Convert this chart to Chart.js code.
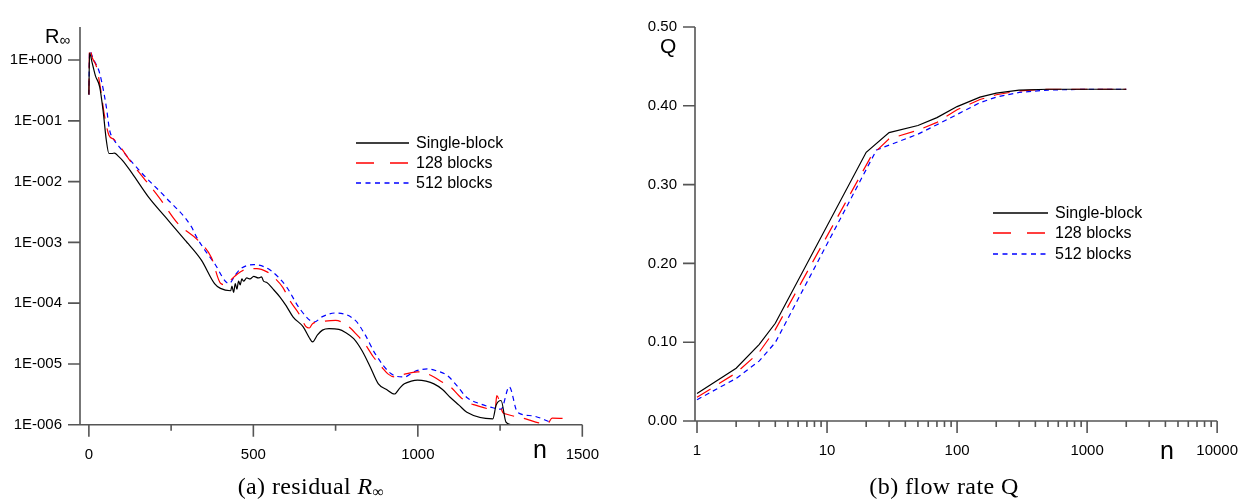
<!DOCTYPE html>
<html><head><meta charset="utf-8">
<script src="https://cdn.jsdelivr.net/npm/chart.js@4.4.1/dist/chart.umd.min.js"></script>
<style>
html,body{margin:0;padding:0;background:#fff;}
body{width:1259px;height:500px;overflow:hidden;position:relative;font-family:"Liberation Sans",Arial,sans-serif;color:#000;}
canvas{position:absolute;top:0;}
.t{position:absolute;white-space:nowrap;line-height:1;}
.cap{font-family:"Liberation Serif","Times New Roman",serif;font-size:24px;letter-spacing:0.4px;transform:translateX(-50%);}
.leg{position:absolute;font-size:16px;line-height:1;}
.leg .row{display:flex;align-items:center;height:20.3px;}
.leg svg{margin-right:7px;}
</style></head>
<body>
<canvas id="cA" width="620" height="500" style="left:0px"></canvas>
<canvas id="cB" width="639" height="500" style="left:620px"></canvas>

<div class="t" style="left:45px;top:26px;font-size:20px;">R<span style="font-size:15px;position:relative;top:2px;">∞</span></div>
<div class="t" style="left:533px;top:437px;font-size:25px;">n</div>
<div class="t" style="left:660px;top:35px;font-size:21px;">Q</div>
<div class="t" style="left:1160px;top:438px;font-size:25px;">n</div>
<div class="t cap" style="left:311px;top:474px;">(a) residual <i>R</i><sub style="font-size:16px;vertical-align:-3px;">∞</sub></div>
<div class="t cap" style="left:944px;top:474px;">(b) flow rate Q</div>

<div class="leg" id="legA" style="left:356px;top:132.5px;"></div>
<div class="leg" id="legB" style="left:993px;top:203px;"></div>

<script>
// ---------- (a) residual ----------
const singleN = [0,2,10,20,33,43,53,61,70,78,90,102,131,182,233,293,302,342,382,400,431,435,440,445,450,455,460,465,470,480,490,501,515,525,531,540,560,581,600,621,651,670,680,695,710,730,760,780,805,830,855,880,905,929,945,959,980,999,1025,1049,1075,1099,1125,1149,1228,1238,1253,1268,1283];
const singleR = [0.27,1.3,0.9,0.55,0.36,0.15,0.048,0.029,0.029,0.0295,0.026,0.0224,0.0138,0.0055,0.0026,0.00108,9.5e-4,5.1e-4,2.1e-4,1.75e-4,1.6e-4,1.9e-4,1.5e-4,2.1e-4,1.7e-4,2.3e-4,2.0e-4,2.5e-4,2.3e-4,2.6e-4,2.5e-4,2.76e-4,2.6e-4,2.7e-4,2.3e-4,2.2e-4,1.7e-4,1.26e-4,9e-5,5.9e-5,4.1e-5,2.7e-5,2.3e-5,3.0e-5,3.6e-5,3.8e-5,3.7e-5,3.3e-5,2.6e-5,1.66e-5,9e-6,4.7e-6,3.8e-6,3.2e-6,4.0e-6,4.7e-6,5.2e-6,5.4e-6,5.2e-6,4.7e-6,3.8e-6,2.8e-6,2.1e-6,1.6e-6,1.25e-6,2.1e-6,2.5e-6,1.1e-6,1.0e-6];

const b128N = [0,2,10,23,35,48,61,75,88,131,212,272,332,372,401,415,431,451,471,511,540,561,590,611,640,660,670,680,710,750,790,815,840,865,890,910,929,960,999,1025,1049,1075,1099,1125,1149,1175,1228,1235,1240,1258,1268,1300,1328,1368,1395,1408,1443];
const b128R = [0.27,1.6,1.1,0.78,0.35,0.117,0.058,0.05,0.042,0.02,0.0056,0.002,1.08e-3,5.7e-4,2.1e-4,2.0e-4,2.4e-4,3.0e-4,3.5e-4,3.7e-4,3.3e-4,2.7e-4,1.8e-4,1.1e-4,6.5e-5,4.1e-5,3.9e-5,4.6e-5,5.0e-5,5.2e-5,4.1e-5,3.0e-5,2.1e-5,1.3e-5,8.9e-6,6.8e-6,6.1e-6,6.8e-6,7.4e-6,7.0e-6,6.1e-6,5.0e-6,4.2e-6,3.0e-6,2.35e-6,2.1e-6,1.8e-6,1.8e-6,3.0e-6,1.6e-6,1.5e-6,1.35e-6,1.25e-6,1.07e-6,1.05e-6,1.28e-6,1.27e-6];

const b512N = [0,2,15,33,53,63,75,93,162,232,312,327,382,426,445,462,501,551,601,641,685,710,750,810,840,870,919,959,990,1029,1060,1089,1120,1149,1190,1228,1253,1278,1303,1348,1403];
const b512R = [0.27,1.4,1.0,0.6,0.17,0.07,0.05,0.037,0.0136,0.0056,1.8e-3,1.23e-3,4.5e-4,2.1e-4,2.9e-4,3.7e-4,4.3e-4,3.5e-4,1.85e-4,8.1e-5,4.9e-5,6.0e-5,6.9e-5,5.2e-5,3.0e-5,1.48e-5,6.9e-6,6.1e-6,7.5e-6,8.3e-6,7.6e-6,6.5e-6,4.3e-6,2.8e-6,2.2e-6,1.9e-6,1.8e-6,4.2e-6,1.6e-6,1.4e-6,1.1e-6];

const xTicksA = [0,500,1000,1500];
const xMinorA = [250,750,1250];
const yTicksA = [1e-6,1e-5,1e-4,1e-3,1e-2,1e-1,1];

// ---------- (b) flow rate ----------
const singleQn = [1,2,3,4,20,30,50,70,100,150,200,300,500,1000,2000];
const singleQ  = [0.035,0.067,0.097,0.124,0.341,0.366,0.375,0.385,0.399,0.411,0.416,0.420,0.421,0.421,0.421];
const b128Qn = [1,2,3,4,22,30,50,70,100,150,200,300,500,1000,2000];
const b128Q  = [0.030,0.061,0.087,0.116,0.337,0.358,0.369,0.379,0.395,0.408,0.414,0.419,0.421,0.421,0.421];
const b512Qn = [1,2,3,4,24,50,70,100,150,200,300,500,1000,2000];
const b512Q  = [0.027,0.054,0.076,0.0996,0.344,0.364,0.376,0.389,0.404,0.411,0.417,0.420,0.421,0.421];

const xTicksB = [1,10,100,1000,10000];
const yTicksB = [0,0.1,0.2,0.3,0.4,0.5];

const seriesNames = ['Single-block','128 blocks','512 blocks'];
const seriesColors = ['#000000','#ff0000','#0000ff'];
const seriesDash = [[],[16,10],[5,4]];

// ----------------------------------------------------
const pts = (xs, ys) => xs.map((v,i)=>({x:v,y:ys[i]}));
const FONT = {family:'"Liberation Sans", Arial, sans-serif', size:15};
const AX = '#555555';

const axesPlugin = {
  id:'axes',
  afterDraw(chart, args, o){
    const {ctx, chartArea:a} = chart;
    const x = chart.scales.x, y = chart.scales.y;
    ctx.save();
    ctx.strokeStyle = AX; ctx.lineWidth = 1.6; ctx.lineCap='butt';
    ctx.beginPath();
    ctx.moveTo(a.left, a.top); ctx.lineTo(a.left, a.bottom); ctx.lineTo(a.right, a.bottom);
    (o.xMajor||[]).forEach(v=>{const p=x.getPixelForValue(v); ctx.moveTo(p,a.bottom); ctx.lineTo(p,a.bottom+12);});
    (o.xMinor||[]).forEach(v=>{const p=x.getPixelForValue(v); ctx.moveTo(p,a.bottom); ctx.lineTo(p,a.bottom+6);});
    (o.yMajor||[]).forEach(v=>{const p=y.getPixelForValue(v); ctx.moveTo(a.left,p); ctx.lineTo(a.left-12,p);});
    ctx.stroke();
    ctx.restore();
  }
};

function datasets(list, smooth){
  return list.map((d,i)=>({
    label: seriesNames[i], data: d, showLine:true, pointRadius:0,
    borderColor: seriesColors[i], borderWidth:1.2, borderDash: seriesDash[i],
    fill:false, cubicInterpolationMode: smooth ? 'monotone' : 'default', tension:0
  }));
}

const fixedTicks = arr => (s)=>{ s.ticks = arr.map(v=>({value:v})); };

new Chart(document.getElementById('cA'), {
  type:'scatter',
  data:{datasets: datasets([pts(singleN,singleR), pts(b128N,b128R), pts(b512N,b512R)], true)},
  options:{
    responsive:false, animation:false, devicePixelRatio:1,
    layout:{padding:{left:0,top:27,right:28.3,bottom:0}},
    plugins:{legend:{display:false}, tooltip:{enabled:false},
      axes:{xMajor:xTicksA, xMinor:xMinorA, yMajor:yTicksA}},
    scales:{
      x:{type:'linear', min:-27, max:1500,
        afterFit(s){s.height=75.3;}, afterBuildTicks:fixedTicks(xTicksA),
        ticks:{padding:21, font:FONT, color:'#000', maxRotation:0, autoSkip:false, callback:v=>String(v)},
        grid:{display:false, drawTicks:false}, border:{display:false}},
      y:{type:'logarithmic', min:1e-6, max:3.5,
        afterFit(s){s.width=80;}, afterBuildTicks:fixedTicks(yTicksA),
        ticks:{padding:18, font:FONT, color:'#000', autoSkip:false,
          callback:v=>{const e=Math.round(Math.log10(v)); return '1E'+(e<0?'-':'+')+String(Math.abs(e)).padStart(3,'0');}},
        grid:{display:false, drawTicks:false}, border:{display:false}}
    }
  },
  plugins:[axesPlugin]
});

const xMinorB = [];
[1,10,100,1000].forEach(d=>{for(let k=2;k<=9;k++) xMinorB.push(d*k);});

new Chart(document.getElementById('cB'), {
  type:'scatter',
  data:{datasets: datasets([pts(singleQn,singleQ), pts(b128Qn,b128Q), pts(b512Qn,b512Q)], false)},
  options:{
    responsive:false, animation:false, devicePixelRatio:1,
    layout:{padding:{left:0,top:14.7,right:38.3,bottom:0}},
    plugins:{legend:{display:false}, tooltip:{enabled:false},
      axes:{xMajor:xTicksB, xMinor:xMinorB, yMajor:yTicksB}},
    scales:{
      x:{type:'logarithmic', min:0.965, max:10000,
        afterFit(s){s.height=79;}, afterBuildTicks:fixedTicks(xTicksB),
        ticks:{padding:21, font:FONT, color:'#000', maxRotation:0, autoSkip:false, callback:v=>String(v)},
        grid:{display:false, drawTicks:false}, border:{display:false}},
      y:{type:'linear', min:0, max:0.5,
        afterFit(s){s.width=75;}, afterBuildTicks:fixedTicks(yTicksB),
        ticks:{padding:18, font:FONT, color:'#000', autoSkip:false, callback:v=>v.toFixed(2)},
        grid:{display:false, drawTicks:false}, border:{display:false}}
    }
  },
  plugins:[axesPlugin]
});

// legends (HTML text)
function buildLegend(id, w){
  const el = document.getElementById(id);
  seriesNames.forEach((n,i)=>{
    const row = document.createElement('div'); row.className='row';
    const dash = i===1 ? '18 16' : (i===2 ? '5 4.5' : '');
    row.innerHTML = '<svg width="'+w+'" height="4"><line x1="0" y1="2" x2="'+w+'" y2="2" stroke="'+seriesColors[i]+'" stroke-width="1.3"'+(dash?' stroke-dasharray="'+dash+'"':'')+'/></svg><span>'+n+'</span>';
    el.appendChild(row);
  });
}
buildLegend('legA', 53);
buildLegend('legB', 55);
</script>
</body></html>
